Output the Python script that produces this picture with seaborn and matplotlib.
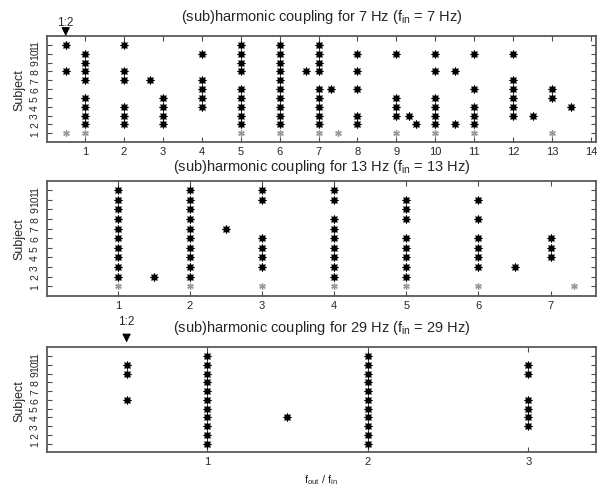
import numpy as np
import pandas as pd
import matplotlib
matplotlib.use("Agg")
import matplotlib.pyplot as plt
import seaborn as sns

# ---------------- data ----------------
subjects = list(range(1, 12))

# panel 1 : 7 Hz
p1_ratios = [0.5, 1, 2, 2.67, 3, 4, 5, 6, 6.67, 7, 7.33, 8, 9, 9.33, 9.5, 10, 10.5, 11, 12, 12.5, 13, 13.5]
p1_subjects = [
    [11, 8], [10, 9, 8, 7, 5, 4, 3, 2], [11, 8, 7, 4, 3, 2], [7], [5, 4, 3, 2],
    [10, 7, 6, 5, 4], [11, 10, 9, 8, 6, 5, 4, 3, 2], [11, 10, 9, 8, 7, 6, 5, 4, 3, 2],
    [8], [11, 10, 9, 8, 6, 5, 4, 3, 2], [6], [10, 8, 6, 3, 2], [10, 5, 4, 3], [3], [2],
    [10, 8, 5, 4, 3, 2], [8, 2], [10, 6, 4, 3, 2], [10, 7, 6, 5, 4, 3], [3], [6, 5], [4],
]
p1_gray_ratios = [0.5, 1, 5, 6, 7, 7.5, 9, 10, 11, 13]

# panel 2 : 13 Hz
p2_ratios = [1, 1.5, 2, 2.5, 3, 4, 5, 6, 6.5, 7]
p2_subjects = [
    [11, 10, 9, 8, 7, 6, 5, 4, 3, 2], [2], [11, 10, 9, 8, 7, 6, 5, 4, 3, 2], [7],
    [11, 10, 6, 5, 4, 3], [11, 10, 8, 7, 6, 5, 4, 3, 2], [10, 9, 8, 6, 5, 4, 3, 2],
    [10, 8, 6, 5, 4, 3], [3], [6, 5, 4],
]
p2_gray_ratios = [1, 2, 3, 4, 5, 6, 7.33]

# panel 3 : 29 Hz
p3_ratios = [0.5, 1, 1.5, 2, 3]
p3_subjects = [
    [10, 9, 6], [11, 10, 9, 8, 7, 6, 5, 4, 3, 2, 1], [4],
    [11, 10, 9, 8, 7, 6, 5, 4, 3, 2, 1], [10, 9, 6, 5, 4, 3],
]
p3_gray_ratios = []

titles = [
    r"(sub)harmonic coupling for 7 Hz (f$_{\mathregular{in}}$ = 7 Hz)",
    r"(sub)harmonic coupling for 13 Hz (f$_{\mathregular{in}}$ = 13 Hz)",
    r"(sub)harmonic coupling for 29 Hz (f$_{\mathregular{in}}$ = 29 Hz)",
]
xtick_sets = [list(range(1, 15)), list(range(1, 8)), [1, 2, 3]]
xlims = [(0.02, 14.13), (0.016, 7.63), (0.005, 3.42)]
arrow_panels = {0: 0.5, 2: 0.5}

# ---------------- style ----------------
sns.set_style("white")
plt.rcParams["font.family"] = ["Liberation Sans", "DejaVu Sans"]
plt.rcParams["mathtext.fontset"] = "custom"
plt.rcParams["mathtext.rm"] = "Liberation Sans"
plt.rcParams["mathtext.it"] = "Liberation Sans"


def make_frames(ratios, subs, gray):
    sig = pd.DataFrame([(r, s) for r, ss in zip(ratios, subs) for s in ss],
                       columns=["ratio", "subject"])
    ns = pd.DataFrame([(r, 1) for r in gray], columns=["ratio", "subject"])
    return sig, ns


panels = [
    make_frames(p1_ratios, p1_subjects, p1_gray_ratios),
    make_frames(p2_ratios, p2_subjects, p2_gray_ratios),
    make_frames(p3_ratios, p3_subjects, p3_gray_ratios),
]

fig = plt.figure(figsize=(6.03, 4.89), dpi=100)
W, H = 603.0, 489.0
boxes = [(37, 143), (181.7, 296.7), (348.3, 453.3)]
L, R = 47, 596
title_y = [17, 167, 328]

for i, (sig, ns) in enumerate(panels):
    top, bot = boxes[i]
    ax = fig.add_axes([L / W, 1 - bot / H, (R - L) / W, (bot - top) / H])
    sns.scatterplot(data=sig, x="ratio", y="subject", marker=(8, 1, 0), color="black",
                    edgecolor="black", linewidth=0.7, s=32, ax=ax, zorder=3)
    if len(ns):
        sns.scatterplot(data=ns, x="ratio", y="subject", marker=(6, 2, 0), color="0.6",
                        linewidth=1.0, s=16, ax=ax, zorder=3)
    ax.set_xlim(*xlims[i])
    ax.set_ylim(0, 12)
    ax.set_xticks(xtick_sets[i])
    ax.set_xticklabels([str(t) for t in xtick_sets[i]], fontsize=8)
    ax.set_yticks(subjects)
    ax.set_yticklabels([str(s) for s in subjects], fontsize=7.5, rotation=90, va="center")
    ax.tick_params(direction="in", length=3.5, width=0.8, top=True, right=True,
                   left=True, bottom=True, color="0.3", pad=3)
    ax.tick_params(axis="y", pad=5)
    for sp in ax.spines.values():
        sp.set_visible(True)
        sp.set_linewidth(1.3)
        sp.set_color("0.35")
    ax.set_ylabel("Subject", fontsize=9, labelpad=3)
    ax.set_xlabel("")
    h = bot - top
    ax.text(0.5, 1 + (top - title_y[i]) / h, titles[i], transform=ax.transAxes,
            ha="center", va="center", fontsize=10.5)
    if i in arrow_panels:
        xr = arrow_panels[i]
        if i == 0:
            tip, txt = 12.0, 14.0
        else:
            tip, txt = 12.55, 21.6
        ax.annotate("1:2", xy=(xr, tip), xytext=(0, txt * 0.72), textcoords="offset points",
                    ha="center", va="center", fontsize=8.5, annotation_clip=False,
                    arrowprops=dict(arrowstyle="-|>,head_length=0.6,head_width=0.3",
                                    color="black", lw=0.8, shrinkA=4, shrinkB=0))
    if i == 2:
        ax.set_xlabel(r"f$_{\mathregular{out}}$ / f$_{\mathregular{in}}$", fontsize=8, labelpad=4)

fig.savefig("out.png", dpi=100, facecolor="white")
